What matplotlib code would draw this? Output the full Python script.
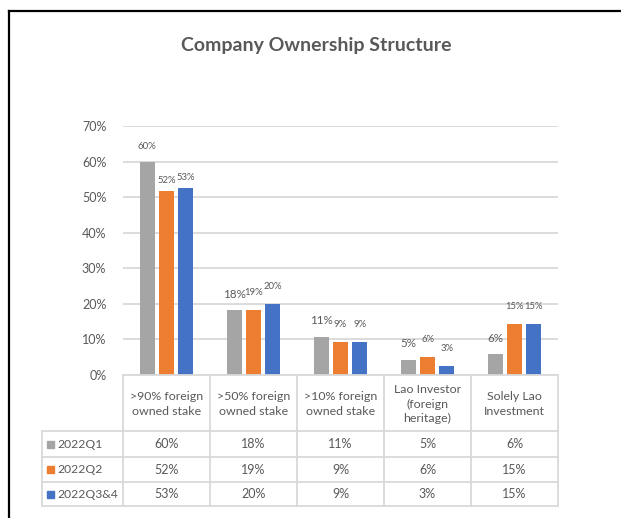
import matplotlib
matplotlib.use("Agg")
import matplotlib.pyplot as plt
from matplotlib.lines import Line2D
from matplotlib.patches import Rectangle

plt.rcParams["font.family"] = ["Lato", "DejaVu Sans"]

categories = [">90% foreign\nowned stake", ">50% foreign\nowned stake",
              ">10% foreign\nowned stake", "Lao Investor\n(foreign\nheritage)",
              "Solely Lao\nInvestment"]
series = ["2022Q1", "2022Q2", "2022Q3&4"]
# bar heights as drawn (percent)
q1 = [60.0, 18.2, 10.7, 4.3, 5.9]
q2 = [51.7, 18.2, 9.2, 5.0, 14.4]
q34 = [52.6, 20.0, 9.3, 2.6, 14.3]
# rounded values shown in labels / data table
q1_pct = [60, 18, 11, 5, 6]
q2_pct = [52, 19, 9, 6, 15]
q34_pct = [53, 20, 9, 3, 15]

colors = ["#A5A5A5", "#ED7D31", "#4472C4"]
txt = "#595959"
grid_c = "#D9D9D9"

W, H = 621, 518
fig = plt.figure(figsize=(W / 100, H / 100), dpi=100)


def fx(x):
    return x / W


def fy(y):
    return 1 - y / H


# plot area in pixels
left, right, top, bottom = 123, 558, 126, 375
ax = fig.add_axes([fx(left), fy(bottom), fx(right) - fx(left), fy(top) - fy(bottom)])

values = [q1, q2, q34]
labels = [q1_pct, q2_pct, q34_pct]
step, width = 0.222, 0.176
# label font sizes / offsets (Excel mixed sizes)
lab_size = [[7, 8.4, 8.4, 8.4, 8.4], [6.8] * 5, [6.8] * 5]
lab_off = [[10.5, 11.5, 11.5, 11.5, 11.5], [7.5, 12.5, 12.5, 12.5, 12.5],
           [7.5, 12.5, 12.5, 12.5, 12.5]]

for s, (vals, labs, c) in enumerate(zip(values, labels, colors)):
    xs = [i + (s - 1) * step for i in range(len(categories))]
    ax.bar(xs, vals, width=width, color=c, zorder=3)
    for i, (x, v, l) in enumerate(zip(xs, vals, labs)):
        ax.annotate(f"{l}%", (x, v), xytext=(0, lab_off[s][i]),
                    textcoords="offset points", ha="center", va="center",
                    fontsize=lab_size[s][i], color=txt)

ax.set_xlim(-0.5, len(categories) - 0.5)
ax.set_ylim(0, 70)
ax.set_yticks(range(0, 71, 10))
ax.set_yticklabels([f"{t}%" for t in range(0, 71, 10)], fontsize=9, color=txt)
ax.tick_params(axis="y", length=0, pad=12)
ax.set_xticks([])
ax.yaxis.grid(True, color=grid_c, linewidth=1.3, zorder=0)
for sp in ax.spines.values():
    sp.set_visible(False)

# title
fig.text(fx(316), fy(45), "Company Ownership Structure", ha="center", va="center",
         fontsize=14, fontweight="bold", color=txt)

# data table drawn below the axis
col_x = [left + i * (right - left) / len(categories) for i in range(len(categories) + 1)]
tab_left = 42
row_y = [bottom, 431, 457, 482, 506]


def hline(x0, x1, y):
    fig.add_artist(Line2D([fx(x0), fx(x1)], [fy(y), fy(y)], color=grid_c, linewidth=1.3))


def vline(x, y0, y1):
    fig.add_artist(Line2D([fx(x), fx(x)], [fy(y0), fy(y1)], color=grid_c, linewidth=1.3))


hline(left, right, row_y[0])
for y in row_y[1:]:
    hline(tab_left, right, y)
for x in col_x:
    vline(x, row_y[0], row_y[-1])
vline(tab_left, row_y[1], row_y[-1])

for i, cat in enumerate(categories):
    cx = (col_x[i] + col_x[i + 1]) / 2
    fig.text(fx(cx), fy((row_y[0] + row_y[1]) / 2 + 1), cat, ha="center", va="center",
             fontsize=8.9, color=txt, linespacing=1.35)

for r, (name, labs, c) in enumerate(zip(series, labels, colors)):
    cy = (row_y[r + 1] + row_y[r + 2]) / 2
    fig.add_artist(Rectangle((fx(47), fy(cy + 3.5)), fx(7) - fx(0), fy(0) - fy(7),
                             color=c, transform=fig.transFigure))
    fig.text(fx(57), fy(cy), name, ha="left", va="center", fontsize=8.7, color=txt)
    for i, l in enumerate(labs):
        cx = (col_x[i] + col_x[i + 1]) / 2
        fig.text(fx(cx), fy(cy), f"{l}%", ha="center", va="center", fontsize=9, color=txt)

# outer chart border (cropped at right and bottom)
fig.add_artist(Line2D([fx(9), fx(9)], [fy(11), fy(H + 5)], color="black", linewidth=1.6))
fig.add_artist(Line2D([fx(9), fx(W + 5)], [fy(11), fy(11)], color="black", linewidth=1.6))

fig.savefig("out.png", dpi=100)
